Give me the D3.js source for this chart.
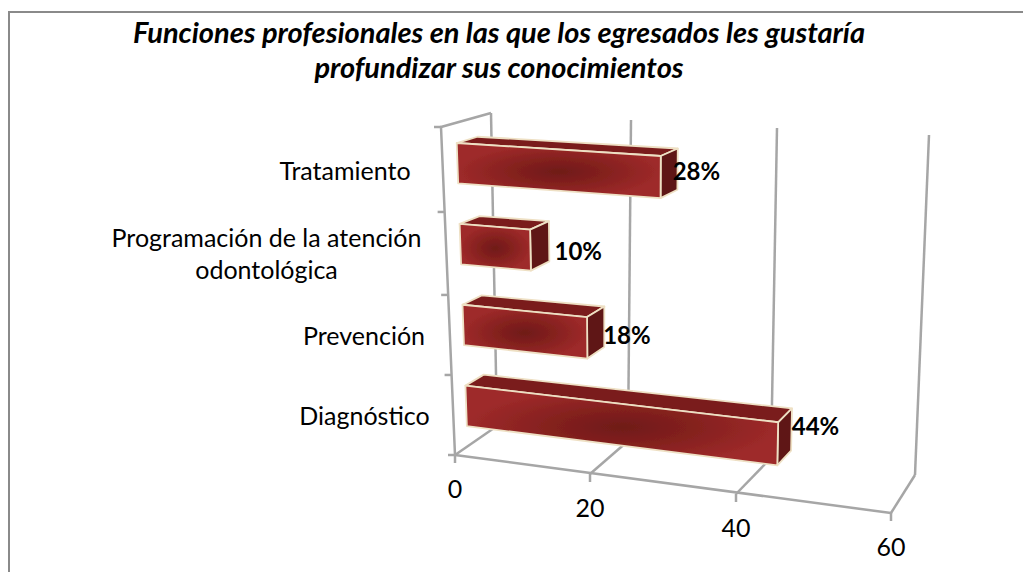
<!DOCTYPE html>
<html><head><meta charset="utf-8">
<script src="https://cdn.jsdelivr.net/npm/d3@7"></script>
<style>html,body{margin:0;padding:0;background:#fff}svg{display:block}text{font-family:Lato,sans-serif}</style>
</head><body><svg id="c" width="1023" height="572"></svg>
<script>
const categories=["Diagnóstico","Prevención","Programación de la atención odontológica","Tratamiento"];
const values=[44,18,10,28];
const labels=["44%","18%","10%","28%"];
const ticks=[0,20,40,60];
const titleLines=["Funciones profesionales en las que los egresados les gustaría","profundizar sus conocimientos"];
const svg=d3.select("#c");
svg.append("path").attr("d","M9,572V12H1023").attr("fill","none").attr("stroke","#8a8a8a").attr("stroke-width",2);
const fbx=d3.scaleLinear().domain(ticks).range([455,590,736,891]);
const fby=d3.scaleLinear().domain(ticks).range([455,474,494,513]);
const bbx=d3.scaleLinear().domain(ticks).range([497,628,771,915]);
const bby=d3.scaleLinear().domain(ticks).range([426,441,458,475]);
const ftx=d3.scaleLinear().domain(ticks).range([441,587,741,905]);
const fty=d3.scaleLinear().domain(ticks).range([127,136,146,155]);
const btx=d3.scaleLinear().domain(ticks).range([491,631,777,929]);
const bty=d3.scaleLinear().domain(ticks).range([113,120,128,135]);
const L=(a,b,t)=>a+(b-a)*t;
function P(v,h,d){
  const bx=L(fbx(v),bbx(v),d),by=L(fby(v),bby(v),d),tx=L(ftx(v),btx(v),d),ty=L(fty(v),bty(v),d);
  return [L(bx,tx,h),L(by,ty,h)];
}
const band=d3.scaleBand().domain(categories).range([0,1]).padding(0.5).paddingOuter(0.25);
const defs=svg.append("defs");
const grad=defs.append("radialGradient").attr("id","fg").attr("cx","50%").attr("cy","52%").attr("r","50%");
grad.append("stop").attr("offset","0%").attr("stop-color","#6f1a18");
grad.append("stop").attr("offset","50%").attr("stop-color","#86211f");
grad.append("stop").attr("offset","100%").attr("stop-color","#9e2a2a");
const f=defs.append("filter").attr("id","soft").attr("x","-5%").attr("y","-5%").attr("width","110%").attr("height","110%");
f.append("feGaussianBlur").attr("stdDeviation",0.45);
const line=d3.line();
const g=svg.append("g").attr("fill","none").attr("stroke","#a6a6a6").attr("stroke-width",2.5).attr("filter","url(#soft)");
ticks.forEach((t,i)=>{
  if(i>0) g.append("path").attr("d",line([P(t,0,1),P(t,1,1)]));
  g.append("path").attr("d",line([P(t,0,0),P(t,0,1)]));
  g.append("path").attr("d",line([P(t,0,0),[fbx(t),fby(t)+8]]));
});
g.append("path").attr("d",line([P(0,0,0),P(60,0,0)]));
g.append("path").attr("d",line([P(0,0,1),P(0,1,1)]));
g.append("path").attr("d",line([P(0,0,0),P(0,1,0),P(0,1,1)]));
const tickH=d3.scaleLinear().domain([0,1,2,3,4]).range([0,.244,.488,.741,1]);
d3.range(0,5).forEach(i=>{const p=P(0,tickH(i),0);g.append("path").attr("d",line([[p[0]-7,p[1]],p]));});
const D0=0.3,D1=0.72;
const bars=svg.append("g");
const labelOffsets=[[14,-9],[16,6],[24,10],[12,3]];
categories.forEach((c,i)=>{
  const h0=band(c),h1=h0+band.bandwidth(),v=values[i];
  const s=bars.append("g").attr("stroke","#eee0c4").attr("stroke-width",1.8).attr("stroke-linejoin","round").attr("filter","url(#soft)");
  const poly=a=>line(a)+"Z";
  s.append("path").attr("fill","#7a1f1d").attr("d",poly([P(0,h1,D0),P(v,h1,D0),P(v,h1,D1),P(0,h1,D1)]));
  s.append("path").attr("fill","#5f1714").attr("d",poly([P(v,h0,D0),P(v,h1,D0),P(v,h1,D1),P(v,h0,D1)]));
  s.append("path").attr("fill","url(#fg)").attr("d",poly([P(0,h0,D0),P(v,h0,D0),P(v,h1,D0),P(0,h1,D0)]));
  const q=P(v,(h0+h1)/2,D0);
  svg.append("text").attr("x",q[0]+labelOffsets[i][0]).attr("y",q[1]+labelOffsets[i][1]).attr("font-size",24).attr("font-weight",700).attr("fill","#000").text(labels[i]);
});
const tickLab=svg.append("g").attr("font-size",25).attr("fill","#000").attr("text-anchor","middle");
ticks.forEach(t=>{tickLab.append("text").attr("x",fbx(t)).attr("y",fby(t)+43).text(t);});
const catLines=[["Diagnóstico"],["Prevención"],["Programación de la atención","odontológica"],["Tratamiento"]];
const catY=[425,345,247,180];
const catAnchorX=[364.5,364,266.5,345];
catLines.forEach((ls,i)=>{
  ls.forEach((s,j)=>tickLab.append("text").attr("x",catAnchorX[i]).attr("y",catY[i]+j*32).text(s));
});
const title=svg.append("g").attr("font-size",29).attr("font-weight",700).attr("font-style","italic").attr("text-anchor","middle").attr("fill","#000");
titleLines.forEach((s,i)=>title.append("text").attr("x",499).attr("y",43+i*35).text(s));
</script></body></html>
